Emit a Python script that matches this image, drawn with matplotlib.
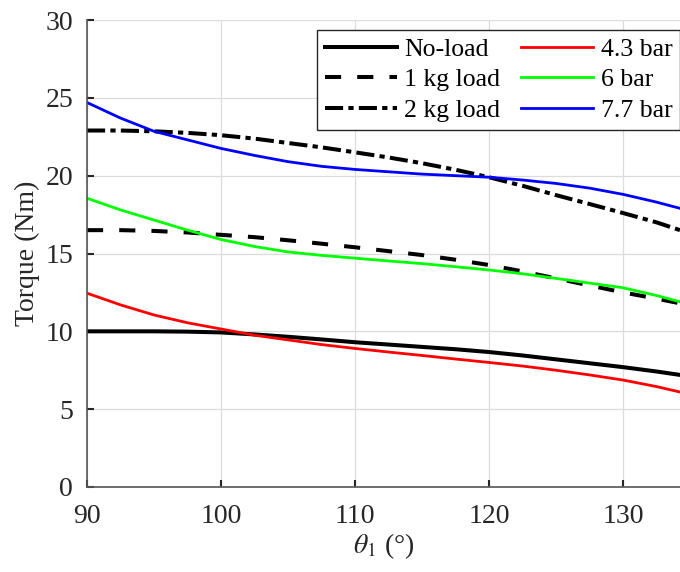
import matplotlib
matplotlib.use("Agg")
import matplotlib.pyplot as plt

plt.rcParams['font.family'] = ['Liberation Serif', 'DejaVu Serif']
plt.rcParams['mathtext.fontset'] = 'stix'

# Data (theta in degrees, torque in Nm)
theta = [90, 92.5, 95, 97.5, 100, 102.5, 105, 107.5, 110, 112.5,
         115, 117.5, 120, 122.5, 125, 127.5, 130, 132.5, 134.25]

no_load = [10.0, 10.0, 10.0, 9.98, 9.93, 9.8, 9.65, 9.48, 9.3, 9.15,
           9.0, 8.85, 8.67, 8.45, 8.2, 7.95, 7.7, 7.42, 7.2]
kg1_load = [16.5, 16.5, 16.45, 16.35, 16.2, 16.05, 15.85, 15.63, 15.4, 15.15,
            14.9, 14.6, 14.26, 13.85, 13.4, 12.95, 12.5, 12.1, 11.8]
kg2_load = [22.9, 22.9, 22.85, 22.75, 22.6, 22.38, 22.1, 21.82, 21.5, 21.17,
            20.8, 20.38, 19.9, 19.35, 18.75, 18.18, 17.6, 17.0, 16.5]
bar43 = [12.45, 11.7, 11.05, 10.55, 10.15, 9.75, 9.45, 9.15, 8.9, 8.67,
         8.45, 8.22, 8.0, 7.77, 7.5, 7.2, 6.87, 6.45, 6.1]
bar6 = [18.55, 17.8, 17.15, 16.5, 15.9, 15.45, 15.1, 14.88, 14.7, 14.52,
        14.35, 14.15, 13.94, 13.7, 13.4, 13.1, 12.8, 12.3, 11.9]
bar77 = [24.7, 23.7, 22.85, 22.3, 21.75, 21.3, 20.9, 20.6, 20.4, 20.25,
         20.1, 20.0, 19.9, 19.72, 19.5, 19.2, 18.8, 18.3, 17.9]

x_ticks = [90, 100, 110, 120, 130]
y_ticks = [0, 5, 10, 15, 20, 25, 30]

fig = plt.figure(figsize=(6.8, 5.72), dpi=100)
ax = fig.add_axes([87 / 680, 85 / 572, 593 / 680, 467 / 572])

ax.plot(theta, no_load, color='black', lw=2.9, label='No-load')
ax.plot(theta, kg1_load, color='black', lw=2.9, linestyle=(0, (4, 4)), label='1 kg load')
ax.plot(theta, kg2_load, color='black', lw=2.9, linestyle=(0, (4.5, 1.3, 1.3, 1.3)), label='2 kg load')
ax.plot(theta, bar43, color='#ff0000', lw=2.0, label='4.3 bar')
ax.plot(theta, bar6, color='#00ff00', lw=2.0, label='6 bar')
ax.plot(theta, bar77, color='#0000ff', lw=2.0, label='7.7 bar')

ax.set_xlim(90, 134.25)
ax.set_ylim(0, 30)
ax.set_xticks(x_ticks)
ax.set_yticks(y_ticks)
ax.grid(True, color='#dcdcdc', lw=0.9)
ax.set_axisbelow(True)

for s in ['top', 'right']:
    ax.spines[s].set_visible(False)
for s in ['left', 'bottom']:
    ax.spines[s].set_color('#555555')
    ax.spines[s].set_linewidth(1.2)

ax.tick_params(direction='in', length=5, width=1.5, color='#262626',
               labelsize=20, labelcolor='#262626')
ax.tick_params(axis='x', pad=12)
ax.tick_params(axis='y', pad=10)

ax.set_xlabel(r'$\theta_1$ (°)', fontsize=20, color='#262626', labelpad=2)
ax.set_ylabel('Torque (Nm)', fontsize=20, color='#262626', labelpad=4)

leg = ax.legend(ncol=2, loc='upper right', bbox_to_anchor=(1.0, 0.979),
                borderaxespad=0, fontsize=18.5, handlelength=2.8,
                handletextpad=0.3, columnspacing=0.8, labelspacing=0.3,
                borderpad=0.3, fancybox=False, framealpha=1,
                edgecolor='#262626')
leg.get_frame().set_linewidth(1.0)

fig.savefig('out.png', dpi=100)
